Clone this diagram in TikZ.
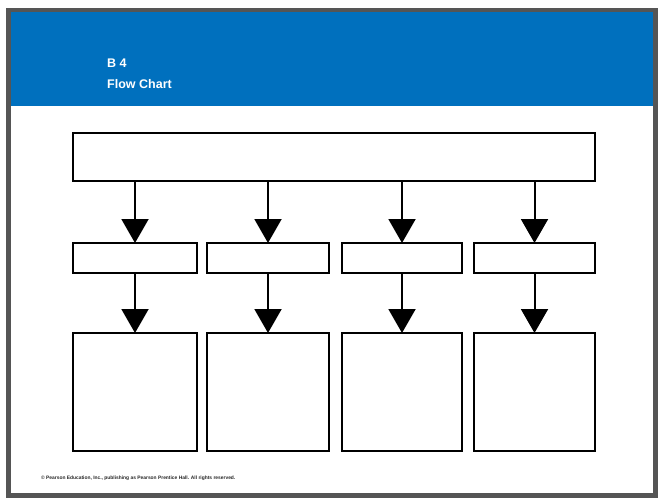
\documentclass[tikz,border=0pt]{standalone}
\usepackage{fontspec}
\setmainfont{Liberation Sans}
\usetikzlibrary{arrows.meta}
\definecolor{bandblue}{RGB}{0,112,190}
\definecolor{framegray}{RGB}{85,85,85}
\tikzset{
  box/.style={draw=black, line width=2pt, fill=white, inner sep=0pt, anchor=north west},
  flow/.style={draw=black, line width=2pt, -{Triangle[length=24pt,width=27pt]}, shorten >=-1pt},
  titletext/.style={anchor=west, text=white, font=\bfseries\fontsize{12.5}{14}\selectfont, inner sep=0pt},
}
\begin{document}
\begin{tikzpicture}[x=1pt,y=-1pt]
\useasboundingbox (0,0) rectangle (665,498);
% page frame
\fill[white] (0,0) rectangle (665,498);
\fill[bandblue] (10,12) rectangle (655,106);
\draw[framegray, line width=4.5pt] (8.5,10) rectangle (655.5,495.5);
% title
\node[titletext] (num) at (107,63) {B 4};
\node[titletext] (title) at (107,84) {Flow Chart};
% boxes
\node[box, minimum width=522pt, minimum height=48pt] (top) at (72,132) {};
\node[box, minimum width=124pt, minimum height=30pt] (m1) at (72,242) {};
\node[box, minimum width=122pt, minimum height=30pt] (m2) at (206,242) {};
\node[box, minimum width=120pt, minimum height=30pt] (m3) at (341,242) {};
\node[box, minimum width=121pt, minimum height=30pt] (m4) at (473,242) {};
\node[box, minimum width=124pt, minimum height=118pt] (b1) at (72,332) {};
\node[box, minimum width=122pt, minimum height=118pt] (b2) at (206,332) {};
\node[box, minimum width=120pt, minimum height=118pt] (b3) at (341,332) {};
\node[box, minimum width=121pt, minimum height=118pt] (b4) at (473,332) {};
% arrows
\foreach \i in {1,2,3,4}{
  \draw[flow] (top.south -| m\i.north) -- (m\i.north);
  \draw[flow] (m\i.south) -- (b\i.north);
}
% footer
\node[anchor=west, inner sep=0pt, font=\bfseries\fontsize{4.9}{6}\selectfont, text=black!85] (foot) at (41,478) {© Pearson Education, Inc., publishing as Pearson Prentice Hall. All rights reserved.};
\end{tikzpicture}
\end{document}
